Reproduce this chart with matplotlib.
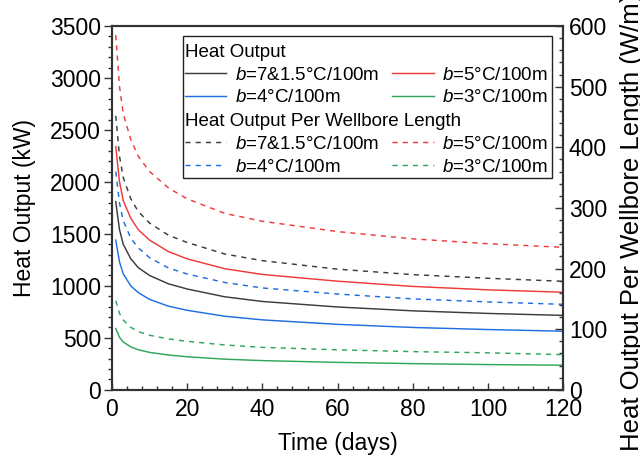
import matplotlib
matplotlib.use('Agg')
import matplotlib.pyplot as plt
from matplotlib.patches import Rectangle
from matplotlib.ticker import MultipleLocator

plt.rcParams['font.family'] = ['Liberation Sans', 'DejaVu Sans']
plt.rcParams['mathtext.fontset'] = 'custom'
plt.rcParams['mathtext.it'] = 'Liberation Sans:italic'
plt.rcParams['mathtext.rm'] = 'Liberation Sans'

# time axis (days)
days = [1, 2, 3, 5, 7, 10, 15, 20, 30, 40, 60, 80, 100, 120]

# heat output (kW)
q_7_15 = [1810, 1540, 1400, 1260, 1175, 1100, 1020, 970, 895, 850, 797, 760, 735, 716]
q_5 = [2340, 2000, 1820, 1650, 1540, 1440, 1330, 1260, 1165, 1110, 1045, 995, 962, 939]
q_4 = [1440, 1230, 1115, 1000, 935, 870, 805, 765, 708, 673, 630, 600, 580, 564]
q_3 = [590, 505, 460, 413, 385, 360, 335, 318, 295, 281, 264, 252, 243, 237]

# heat output per wellbore length (W/m)
w_7_15 = [452, 385, 350, 315, 294, 275, 255, 243, 224, 213, 199, 190, 184, 179]
w_5 = [585, 500, 455, 413, 385, 360, 333, 315, 291, 278, 261, 249, 241, 235]
w_4 = [360, 308, 279, 250, 234, 218, 201, 191, 177, 168, 158, 150, 145, 141]
w_3 = [147, 126, 115, 103, 96, 90, 84, 80, 74, 70, 66, 63, 61, 58]

labels = ['$b$=7&1.5°C/100m', '$b$=5°C/100m', '$b$=4°C/100m', '$b$=3°C/100m']
colors = ['#3c3c3c', '#f03a3a', '#1f6fe0', '#2ea65c']

fig = plt.figure(figsize=(6.4, 4.57), dpi=100)
ax = fig.add_axes([0.175, 0.147, 0.705, 0.796])
ax2 = ax.twinx()

solid = []
for q, c in zip([q_7_15, q_5, q_4, q_3], colors):
    solid.append(ax.plot(days, q, color=c, lw=1.05)[0])
dashed = []
for w, c in zip([w_7_15, w_5, w_4, w_3], colors):
    dashed.append(ax2.plot(days, w, color=c, lw=1.05, dashes=(3.5, 3.5))[0])

ax.set_xlim(0, 120)
ax.set_ylim(0, 3500)
ax2.set_ylim(0, 600)

ax.xaxis.set_major_locator(MultipleLocator(20))
ax.xaxis.set_minor_locator(MultipleLocator(4))
ax.yaxis.set_major_locator(MultipleLocator(500))
ax.yaxis.set_minor_locator(MultipleLocator(100))
ax2.yaxis.set_major_locator(MultipleLocator(100))
ax2.yaxis.set_minor_locator(MultipleLocator(20))

ax.tick_params(axis='x', which='both', direction='in', labelsize=16.5, color='#333333')
ax.tick_params(axis='x', which='major', length=5, width=1.0, pad=6)
ax.tick_params(axis='x', which='minor', length=3, width=1.0)
ax.tick_params(axis='y', which='both', direction='out', labelsize=16.5, color='#333333')
ax.tick_params(axis='y', which='major', length=6, width=1.0, pad=2)
ax.tick_params(axis='y', which='minor', length=3, width=1.0)
ax2.tick_params(axis='y', which='both', direction='in', labelsize=16.5, color='#333333')
ax2.tick_params(axis='y', which='major', length=6, width=1.0, pad=4)
ax2.tick_params(axis='y', which='minor', length=3, width=1.0)

for a in (ax, ax2):
    for s in a.spines.values():
        s.set_color('#333333')
        s.set_linewidth(1.5)

ax.set_xlabel('Time (days)', fontsize=16.5, labelpad=8)
ax.set_ylabel('Heat Output (kW)', fontsize=16.5, labelpad=10)
ax2.set_ylabel('Heat Output Per Wellbore Length (W/m)', fontsize=18.5)
ax2.yaxis.set_label_coords(1.125, 0.46)

leg_kw = dict(ncol=2, frameon=False, fontsize=13.5, title_fontsize=13.5, alignment='left',
              handlelength=2.2, handletextpad=0.45, columnspacing=0.7,
              labelspacing=0.3, borderpad=0.1, borderaxespad=0.0, loc='upper left')
order = [0, 2, 1, 3]
leg1 = ax2.legend([solid[i] for i in order], [labels[i] for i in order],
                  title='Heat Output', bbox_to_anchor=(0.158, 0.956), **leg_kw)
ax2.add_artist(leg1)
leg2 = ax2.legend([dashed[i] for i in order], [labels[i] for i in order],
                  title='Heat Output Per Wellbore Length', bbox_to_anchor=(0.158, 0.766), **leg_kw)
ax2.add_patch(Rectangle((0.157, 0.582), 0.819, 0.391, transform=ax2.transAxes,
                        fill=False, edgecolor='#222222', lw=1.0, zorder=5))

fig.savefig('out.png', dpi=100)
